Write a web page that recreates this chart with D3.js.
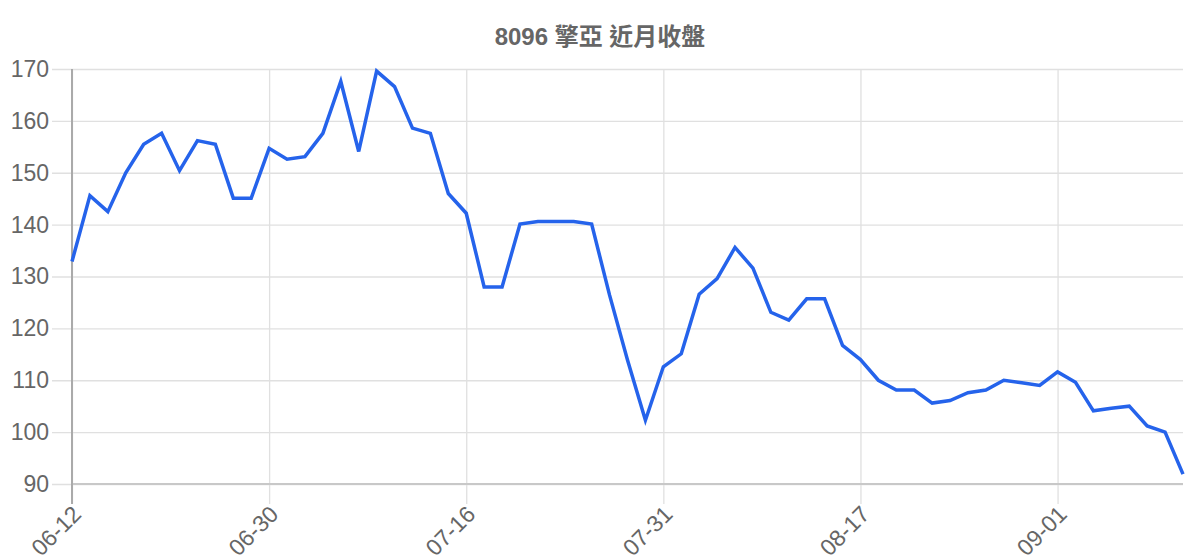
<!DOCTYPE html>
<html>
<head>
<meta charset="utf-8">
<script src="https://cdn.jsdelivr.net/npm/d3@7"></script>
<style>
  html, body { margin: 0; padding: 0; background: #fff; }
  svg { display: block; font-family: "Liberation Sans", Arial, "Noto Sans CJK TC", sans-serif; }
</style>
</head>
<body>
<svg id="chart" width="1200" height="560"></svg>
<script>
const chartTitle = "8096 擎亞 近月收盤";

const dates = [
  "06-12", "06-13", "06-14", "06-15", "06-16", "06-19", "06-20", "06-21", "06-27", "06-28", "06-29",
  "06-30", "07-03", "07-04", "07-05", "07-06", "07-07", "07-10", "07-11", "07-12", "07-13", "07-14",
  "07-16", "07-17", "07-18", "07-19", "07-20", "07-21", "07-24", "07-25", "07-26", "07-27", "07-28",
  "07-31", "08-01", "08-02", "08-03", "08-04", "08-07", "08-08", "08-10", "08-11", "08-14", "08-16",
  "08-17", "08-18", "08-21", "08-22", "08-23", "08-24", "08-25", "08-28", "08-29", "08-30", "08-31",
  "09-01", "09-04", "09-05", "09-06", "09-07", "09-08", "09-11", "09-12"
];

const closes = [
  132.9, 145.6, 142.5, 150.0, 155.5, 157.6, 150.4, 156.2, 155.5, 145.1, 145.1,
  154.7, 152.6, 153.1, 157.6, 167.6, 154.1, 169.6, 166.6, 158.6, 157.6, 146.0,
  142.2, 128.0, 128.0, 140.1, 140.6, 140.6, 140.6, 140.1, 126.4, 113.9, 102.3,
  112.6, 115.1, 126.6, 129.6, 135.6, 131.6, 123.1, 121.6, 125.7, 125.7, 116.7,
  114.0, 110.0, 108.1, 108.1, 105.6, 106.1, 107.6, 108.1, 110.0, 109.5, 109.0,
  111.6, 109.6, 104.1, 104.6, 105.0, 101.2, 100.0, 91.9
];

const yTicks = [90, 100, 110, 120, 130, 140, 150, 160, 170];
const labelEvery = 11;

const svg = d3.select("#chart");
const margin = { top: 69, right: 17, bottom: 76, left: 72 };
const width = 1200 - margin.left - margin.right;
const height = 560 - margin.top - margin.bottom;
const tickLen = 20;

const x = d3.scalePoint().domain(dates).range([0, width]);
const y = d3.scaleLinear().domain([90, 170]).range([height, 0]);

svg.append("text")
  .attr("x", 600)
  .attr("y", 36)
  .attr("text-anchor", "middle")
  .attr("dominant-baseline", "central")
  .attr("font-size", "24px")
  .attr("font-weight", "bold")
  .attr("fill", "#666")
  .text(chartTitle);

const g = svg.append("g").attr("transform", `translate(${margin.left},${margin.top})`);

// horizontal grid + y labels
const yAxis = d3.axisLeft(y)
  .tickValues(yTicks)
  .tickSize(-width - tickLen)
  .tickPadding(3)
  .tickFormat(d3.format("d"));

g.append("g")
  .attr("class", "y-axis")
  .attr("transform", `translate(${-tickLen},0)`)
  .call(yAxis)
  .call(s => s.select(".domain").remove())
  .call(s => s.selectAll(".tick line").attr("stroke", "#e0e0e0").attr("stroke-width", 1.3))
  .call(s => s.selectAll(".tick text").attr("fill", "#666").attr("font-size", "23px"));

// vertical grid, only at every 11th date
const shownDates = dates.filter((d, i) => i % labelEvery === 0);

g.append("g")
  .attr("class", "x-grid")
  .attr("transform", `translate(0,${height})`)
  .call(d3.axisBottom(x).tickValues(shownDates).tickSize(tickLen).tickFormat(""))
  .call(s => s.select(".domain").remove())
  .call(s => s.selectAll(".tick line").attr("y1", -height).attr("stroke", "#e0e0e0").attr("stroke-width", 1.3));

g.append("g")
  .attr("class", "x-labels")
  .attr("transform", `translate(0,${height})`)
  .selectAll("text")
  .data(shownDates)
  .join("text")
  .attr("transform", d => `translate(${x(d) + 5},${tickLen + 6}) rotate(-45)`)
  .attr("text-anchor", "end")
  .attr("dominant-baseline", "central")
  .attr("fill", "#666")
  .attr("font-size", "23px")
  .text(d => d);

// axis lines
g.append("line")
  .attr("x1", 0).attr("x2", width)
  .attr("y1", height).attr("y2", height)
  .attr("stroke", "#c8c8c8").attr("stroke-width", 2);

g.append("line")
  .attr("x1", 0).attr("x2", 0)
  .attr("y1", 0).attr("y2", height + tickLen)
  .attr("stroke", "#aaa").attr("stroke-width", 2);

// price line
const line = d3.line()
  .x((d, i) => x(dates[i]))
  .y(d => y(d));

g.append("path")
  .datum(closes)
  .attr("d", line)
  .attr("fill", "none")
  .attr("stroke", "#2563eb")
  .attr("stroke-width", 3.5)
  .attr("stroke-linejoin", "miter");
</script>
</body>
</html>
